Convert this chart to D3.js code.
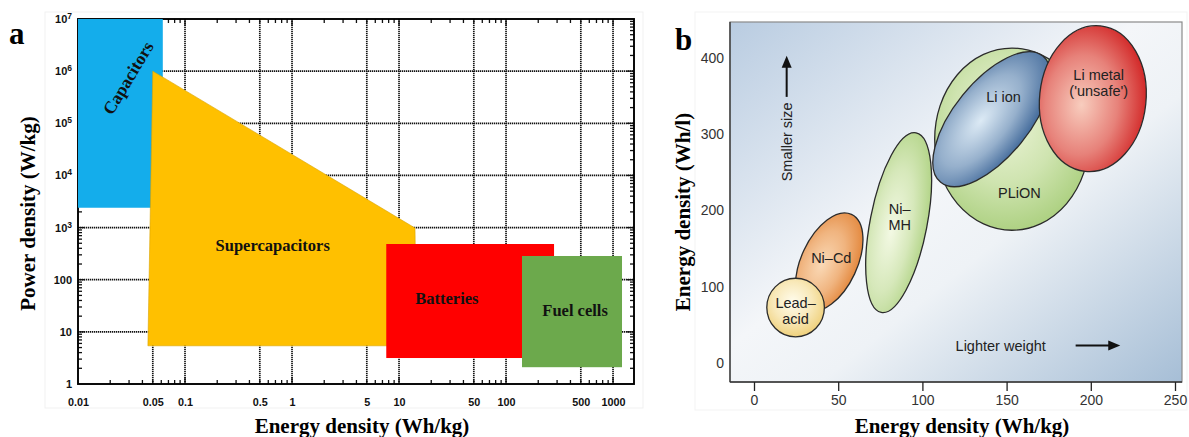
<!DOCTYPE html>
<html><head><meta charset="utf-8">
<script src="https://cdn.jsdelivr.net/npm/d3@7"></script>
<style>body{margin:0;background:#fff}svg{display:block}</style>
</head><body>
<svg id="c" width="1189" height="437"></svg>
<script>
// ---------- Panel a data (Ragone plot, log-log) ----------
const rectNames  = ["Capacitors", "Batteries", "Fuel cells"];
const rectEnergy = [[0.01, 0.062], [7.6, 281], [141, 1213]];   // Wh/kg
const rectPower  = [[2400, 1e7], [3.15, 484], [2.1, 285]];     // W/kg
const superEnergy = [0.05, 14.1, 14.6, 0.045];                 // Supercapacitors polygon
const superPower  = [1e6, 980, 5.4, 5.4];
const aLabelNames  = ["Capacitors", "Supercapacitors", "Batteries", "Fuel cells"];
const aLabelEnergy = [0.0293, 0.66, 28, 442];
const aLabelPower  = [7.4e5, 464, 45, 26];
const aXTicks = [0.01, 0.05, 0.1, 0.5, 1, 5, 10, 50, 100, 500, 1000];
const aXGrid  = [0.05, 0.1, 0.5, 1, 5, 10, 50, 100, 500, 1000];
const aYTicks = [1, 10, 100, 1e3, 1e4, 1e5, 1e6, 1e7];
const aYGrid  = [10, 100, 1e3, 1e4, 1e5, 1e6];

// ---------- Panel b data (battery chemistries) ----------
const cells       = ["Ni–Cd", "Lead–acid", "Ni–MH", "PLiON", "Li ion", "Li metal"];
const cellEnergy  = [44.7, 24.7, 85.9, 153.2, 141.2, 201.2];   // centre, Wh/kg
const cellVolume  = [132.4, 72.7, 184.1, 293.6, 319.8, 346.7]; // centre, Wh/l
const cellSemiA   = [31.2, 17.1, 54.3, 45.9, 48.2, 43.4];      // semi-axis (Wh/kg units)
const cellSemiB   = [16.6, 17.4, 16.9, 54.1, 22.4, 31.6];
const cellTilt    = [65, 0, 79, 0, 51, 84];                    // degrees
const cellLines   = [["Ni–Cd"], ["Lead–", "acid"], ["Ni–", "MH"], ["PLiON"], ["Li ion"], ["Li metal", "('unsafe')"]];
const cellLabelE  = [45.9, 24.7, 86.5, 157.6, 148.2, 204.7];
const cellLabelV  = [137.6, 68.2, 191.4, 222.8, 348.6, 367];
const bXTicks = [0, 50, 100, 150, 200, 250];
const bYTicks = [0, 100, 200, 300, 400];

// ---------- styles ----------
const rectColors = ["#14ADEB", "#FF0000", "#6CA94C"];
const superColor = "#FFC000";
const cellInner = ["#FAD9B6", "#FFFCEC", "#F3F9E4", "#ECF4D8", "#DCEAF5", "#F8CDBE"];
const cellOuter = ["#E3873C", "#EFCF78", "#B2D487", "#ACD080", "#41699A", "#D22626"];
const serif = "'Liberation Serif','Times New Roman',serif";
const sans  = "'Liberation Sans',Arial,sans-serif";

const svg = d3.select("#c");
const defs = svg.append("defs");

// =============== PANEL A ===============
const xA = d3.scaleLog().domain([0.01, 1570]).range([78, 634]);
const yA = d3.scaleLog().domain([1, 1e7]).range([384, 19]);
const gA = svg.append("g");
const [aL, aR] = xA.range(), [aB, aT] = yA.range();

gA.append("rect").attr("x", 45).attr("y", 12).attr("width", 598).attr("height", 396)
  .attr("fill", "none").attr("stroke", "#f1f1f1");

// grid
gA.selectAll(".vg").data(aXGrid).join("line")
  .attr("x1", d => xA(d)).attr("x2", d => xA(d)).attr("y1", aT).attr("y2", aB)
  .attr("stroke", "#111").attr("stroke-width", 1.7).attr("stroke-dasharray", "1.3,0.7");
gA.selectAll(".hg").data(aYGrid).join("line")
  .attr("y1", d => yA(d)).attr("y2", d => yA(d)).attr("x1", aL).attr("x2", aR)
  .attr("stroke", "#111").attr("stroke-width", 1.7).attr("stroke-dasharray", "1.3,0.7");

// minor ticks on all four sides
const xMinor = xA.ticks().filter(d => d > 0.01);
const yMinor = yA.ticks().filter(d => d > 1 && d < 1e7);
const isDec = d => Math.abs(Math.log10(d) - Math.round(Math.log10(d))) < 1e-6;
gA.selectAll(".xb").data(xMinor).join("line")
  .attr("x1", d => xA(d)).attr("x2", d => xA(d)).attr("y1", aB).attr("y2", d => aB - (isDec(d) ? 7 : 4))
  .attr("stroke", "#111").attr("stroke-width", 1.3);
gA.selectAll(".xt").data(xMinor).join("line")
  .attr("x1", d => xA(d)).attr("x2", d => xA(d)).attr("y1", aT).attr("y2", d => aT + (isDec(d) ? 7 : 4))
  .attr("stroke", "#111").attr("stroke-width", 1.3);
gA.selectAll(".yl").data(yMinor).join("line")
  .attr("y1", d => yA(d)).attr("y2", d => yA(d)).attr("x1", aL).attr("x2", d => aL + (isDec(d) ? 7 : 4))
  .attr("stroke", "#111").attr("stroke-width", 1.3);
gA.selectAll(".yr").data(yMinor).join("line")
  .attr("y1", d => yA(d)).attr("y2", d => yA(d)).attr("x1", aR).attr("x2", d => aR - (isDec(d) ? 7 : 4))
  .attr("stroke", "#111").attr("stroke-width", 1.3);

// frame
gA.append("rect").attr("x", aL).attr("y", aT).attr("width", aR - aL).attr("height", aB - aT)
  .attr("fill", "none").attr("stroke", "#000").attr("stroke-width", 1.9);

// regions
gA.append("rect")
  .attr("x", xA(rectEnergy[0][0])).attr("y", yA(rectPower[0][1]))
  .attr("width", xA(rectEnergy[0][1]) - xA(rectEnergy[0][0]))
  .attr("height", yA(rectPower[0][0]) - yA(rectPower[0][1]))
  .attr("fill", rectColors[0]);
gA.append("path")
  .attr("d", d3.line()(superEnergy.map((e, i) => [xA(e), yA(superPower[i])])) + "Z")
  .attr("fill", superColor).attr("stroke", "#d9a200").attr("stroke-width", 0.6);
[1, 2].forEach(i => {
  gA.append("rect")
    .attr("x", xA(rectEnergy[i][0])).attr("y", yA(rectPower[i][1]))
    .attr("width", xA(rectEnergy[i][1]) - xA(rectEnergy[i][0]))
    .attr("height", yA(rectPower[i][0]) - yA(rectPower[i][1]))
    .attr("fill", rectColors[i]);
});

// region labels
gA.selectAll(".rl").data(aLabelNames).join("text")
  .attr("transform", (d, i) => `translate(${xA(aLabelEnergy[i])},${yA(aLabelPower[i])})` + (i === 0 ? " rotate(-59)" : ""))
  .attr("text-anchor", "middle").attr("dy", "0.35em")
  .attr("font-family", serif).attr("font-weight", "bold").attr("font-size", (d, i) => i === 0 ? 17.5 : 16.5)
  .attr("fill", "#111").text(d => d);

// axes labels
const axA = gA.append("g").attr("transform", `translate(0,${aB})`)
  .call(d3.axisBottom(xA).tickValues(aXTicks).tickFormat(d => String(d)).tickSize(0).tickPadding(14));
axA.select(".domain").remove();
axA.selectAll("text").attr("font-family", sans).attr("font-weight", "bold").attr("font-size", 10.8).attr("fill", "#111");

const ayA = gA.append("g").attr("transform", `translate(${aL},0)`)
  .call(d3.axisLeft(yA).tickValues(aYTicks).tickFormat(d => String(d)).tickSize(0).tickPadding(6));
ayA.select(".domain").remove();
ayA.selectAll("text").attr("font-family", sans).attr("font-weight", "bold").attr("font-size", 11).attr("fill", "#111")
  .each(function (d) {
    if (d >= 1000) {
      const t = d3.select(this);
      t.text("10");
      t.append("tspan").attr("dy", -4).attr("font-size", 8.5).text(Math.round(Math.log10(d)));
    }
  });

gA.append("text").attr("x", (aL + aR) / 2 + 6).attr("y", 433)
  .attr("text-anchor", "middle").attr("font-family", serif).attr("font-weight", "bold").attr("font-size", 21)
  .text("Energy density (Wh/kg)");
gA.append("text").attr("transform", `translate(35,${(aT + aB) / 2 + 12}) rotate(-90)`)
  .attr("text-anchor", "middle").attr("font-family", serif).attr("font-weight", "bold").attr("font-size", 21)
  .text("Power density (W/kg)");
gA.append("text").attr("x", 9).attr("y", 44).attr("font-family", serif).attr("font-weight", "bold")
  .attr("font-size", 31).text("a");

// =============== PANEL B ===============
const xB = d3.scaleLinear().domain([0, 250]).range([754, 1175]);
const yB = d3.scaleLinear().domain([0, 400]).range([363, 58]);
const bL = 730, bR = 1182, bT = 22, bB = 382;
const gB = svg.append("g");

gB.append("rect").attr("x", 695).attr("y", 12).attr("width", 492).attr("height", 398)
  .attr("fill", "none").attr("stroke", "#f3f3f3");

const bg = defs.append("linearGradient").attr("id", "bgGrad")
  .attr("x1", 0).attr("y1", 0).attr("x2", 1).attr("y2", 1);
bg.append("stop").attr("offset", 0).attr("stop-color", "#B9CCE1");
bg.append("stop").attr("offset", 0.45).attr("stop-color", "#F4F6F9");
bg.append("stop").attr("offset", 0.6).attr("stop-color", "#EEF2F6");
bg.append("stop").attr("offset", 1).attr("stop-color", "#A6BED6");
gB.append("rect").attr("x", bL).attr("y", bT).attr("width", bR - bL).attr("height", bB - bT)
  .attr("fill", "url(#bgGrad)").attr("stroke", "#8a8a8a").attr("stroke-width", 1.2);
gB.append("line").attr("x1", bL).attr("x2", bL).attr("y1", bT).attr("y2", bB).attr("stroke", "#333").attr("stroke-width", 1.3);
gB.append("line").attr("x1", bL).attr("x2", bR).attr("y1", bB).attr("y2", bB).attr("stroke", "#333").attr("stroke-width", 1.3);

// ellipses
cells.forEach((c, i) => {
  const gr = defs.append("radialGradient").attr("id", "cg" + i)
    .attr("cx", "45%").attr("cy", "40%").attr("r", "62%");
  gr.append("stop").attr("offset", 0).attr("stop-color", cellInner[i]);
  gr.append("stop").attr("offset", 0.55).attr("stop-color", d3.interpolateRgb(cellInner[i], cellOuter[i])(0.45));
  gr.append("stop").attr("offset", 1).attr("stop-color", cellOuter[i]);
  gB.append("ellipse")
    .attr("transform", `translate(${xB(cellEnergy[i])},${yB(cellVolume[i])}) rotate(${-cellTilt[i]})`)
    .attr("rx", xB(cellSemiA[i]) - xB(0)).attr("ry", xB(cellSemiB[i]) - xB(0))
    .attr("fill", `url(#cg${i})`).attr("stroke", "#2b2b2b").attr("stroke-width", 1.3);
});
cells.forEach((c, i) => {
  const lines = cellLines[i];
  const t = gB.append("text").attr("x", xB(cellLabelE[i])).attr("y", yB(cellLabelV[i]))
    .attr("text-anchor", "middle").attr("font-family", sans).attr("font-size", 14.5).attr("fill", "#222");
  lines.forEach((l, k) => {
    t.append("tspan").attr("x", xB(cellLabelE[i]))
      .attr("dy", k === 0 ? `${0.35 - (lines.length - 1) * 0.55}em` : "1.1em").text(l);
  });
});

// annotations
gB.append("text").attr("transform", `translate(${xB(19.4) + 5},${yB(290)}) rotate(-90)`)
  .attr("text-anchor", "middle").attr("font-family", sans).attr("font-size", 14.5).attr("fill", "#222")
  .text("Smaller size");
gB.append("line").attr("x1", xB(19.4)).attr("x2", xB(19.4)).attr("y1", yB(349)).attr("y2", yB(395))
  .attr("stroke", "#111").attr("stroke-width", 2);
gB.append("path").attr("d", `M${xB(19.4)},${yB(403)} l-5,12 l10,0 Z`).attr("fill", "#111");

gB.append("text").attr("x", xB(146.5)).attr("y", yB(23)).attr("dy", "0.35em")
  .attr("text-anchor", "middle").attr("font-family", sans).attr("font-size", 14.5).attr("fill", "#222")
  .text("Lighter weight");
gB.append("line").attr("x1", xB(191)).attr("x2", xB(212)).attr("y1", yB(23)).attr("y2", yB(23))
  .attr("stroke", "#111").attr("stroke-width", 2);
gB.append("path").attr("d", `M${xB(217.5)},${yB(23)} l-12,-5 l0,10 Z`).attr("fill", "#111");

// axes
const axB = gB.append("g").attr("transform", `translate(0,${bB})`)
  .call(d3.axisBottom(xB).tickValues(bXTicks).tickSize(9).tickPadding(4));
axB.select(".domain").remove();
axB.selectAll("line").attr("stroke", "#222").attr("stroke-width", 1.3);
axB.selectAll("text").attr("font-family", sans).attr("font-size", 14).attr("fill", "#333");

const ayB = gB.append("g").attr("transform", `translate(${bL},0)`)
  .call(d3.axisLeft(yB).tickValues(bYTicks).tickSize(0).tickPadding(6));
ayB.select(".domain").remove();
ayB.selectAll("text").attr("font-family", sans).attr("font-size", 14).attr("fill", "#333");

gB.append("text").attr("x", 962).attr("y", 433)
  .attr("text-anchor", "middle").attr("font-family", serif).attr("font-weight", "bold").attr("font-size", 21)
  .text("Energy density (Wh/kg)");
gB.append("text").attr("transform", `translate(690,212) rotate(-90)`)
  .attr("text-anchor", "middle").attr("font-family", serif).attr("font-weight", "bold").attr("font-size", 21)
  .text("Energy density (Wh/l)");
gB.append("text").attr("x", 675).attr("y", 50).attr("font-family", serif).attr("font-weight", "bold")
  .attr("font-size", 31).text("b");
</script>
</body></html>
